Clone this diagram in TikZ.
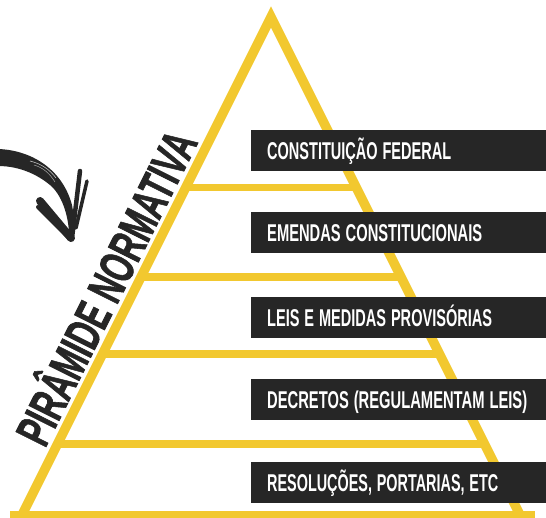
\documentclass[tikz,border=0pt]{standalone}
\usepackage{fontspec}
\setmainfont{Liberation Sans}
\newfontfamily\headingfont[FakeBold=1.6]{Liberation Sans Bold}
\definecolor{pyellow}{HTML}{F2C82F}
\definecolor{barblack}{HTML}{262626}
% squeeze a line of text horizontally to a given width, keeping its height
\newcommand{\squeezeto}[2]{\resizebox{#1}{\height}{#2}}

\begin{document}
\begin{tikzpicture}[x=1pt,y=-1pt,
  edge/.style={draw=pyellow, line width=9.5pt, line join=miter},
  tier/.style={draw=pyellow, line width=7.5pt},
  bar/.style={anchor=north west, fill=barblack, text=white,
    minimum height=41pt, inner xsep=16pt, inner ysep=0pt,
    text width=263pt, text height=17.5pt, text depth=0pt, align=left,
    font=\fontsize{24.3}{25}\selectfont\bfseries},
  heading/.style={anchor=base west, rotate=63.43, inner sep=0pt,
    text=barblack, font=\fontsize{49}{50}\selectfont\headingfont},
  brush/.style={draw=barblack, line cap=round, line join=round}
]
\clip (0,0) rectangle (546,517);
\fill[white] (0,0) rectangle (546,517);

% pyramid outline
\coordinate (apex) at (271,17);
\coordinate (bl) at (13,533);
\coordinate (br) at (529,533);
\draw[edge] (bl) -- (apex) -- (br);

% tier separators
\coordinate (l1) at (185.75,187.5); \coordinate (r1) at (356.25,187.5);
\coordinate (l2) at (141,277);      \coordinate (r2) at (401,277);
\coordinate (l3) at (102.5,354);    \coordinate (r3) at (439.5,354);
\coordinate (l4) at (57.5,444);     \coordinate (r4) at (484.5,444);
\coordinate (l5) at (10,514.5);     \coordinate (r5) at (535,514.5);
\draw[tier] (l1) -- (r1);
\draw[tier] (l2) -- (r2);
\draw[tier] (l3) -- (r3);
\draw[tier] (l4) -- (r4);
\draw[tier] (l5) -- (r5);

% level labels
\node[bar] (cf)  at (251,130) {\squeezeto{184pt}{CONSTITUIÇÃO FEDERAL}};
\node[bar] (ec)  at (251,212) {\squeezeto{215pt}{EMENDAS CONSTITUCIONAIS}};
\node[bar] (lmp) at (251,297) {\squeezeto{225pt}{LEIS E MEDIDAS PROVISÓRIAS}};
\node[bar] (dec) at (251,379) {\squeezeto{260pt}{DECRETOS (REGULAMENTAM LEIS)}};
\node[bar] (res) at (251,462) {\squeezeto{231pt}{RESOLUÇÕES, PORTARIAS, ETC}};

% title along the left side
\node[heading] (title) at (45,449) {\squeezeto{343pt}{PIRÂMIDE NORMATIVA}};

% hand-drawn arrow
\fill[barblack] (-2,149) .. controls (30,150) and (62,168) .. (72,205)
  .. controls (75,220) and (74,232) .. (72,242)
  -- (69,232) .. controls (68,215) and (62,195) .. (50,185)
  .. controls (38,175) and (20,166) .. (-2,166) -- cycle;
\draw[white, line width=0.6pt, opacity=0.7] (30,161) .. controls (42,164) and (50,170) .. (56,178);
\draw[white, line width=0.5pt, opacity=0.6] (34,165) .. controls (44,168) and (50,174) .. (55,182);
\draw[brush, line width=8pt] (40,201) -- (71,238);
\draw[brush, line width=4pt] (38,207) -- (67,236);
\draw[brush, line width=4.5pt] (80,171) -- (72,238);
\draw[brush, line width=3.5pt] (87,181) -- (76,228);
\end{tikzpicture}
\end{document}
